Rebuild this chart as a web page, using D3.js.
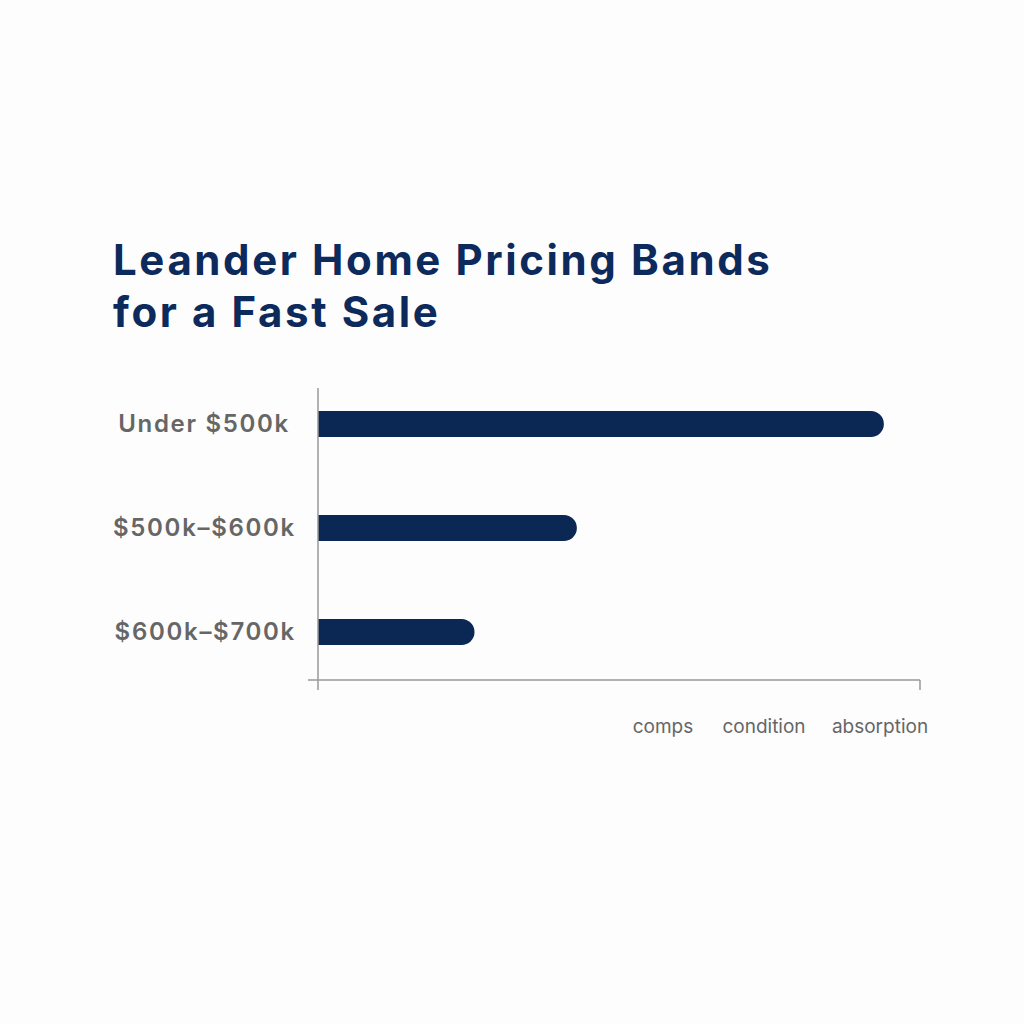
<!DOCTYPE html>
<html>
<head>
<meta charset="utf-8">
<script src="https://cdn.jsdelivr.net/npm/d3@7"></script>
<style>
  body { margin: 0; background: #fdfdfd; }
  svg { font-family: Inter, "Open Sans", sans-serif; }
</style>
</head>
<body>
<svg width="1024" height="1024"></svg>
<script>
const categories = ["Under $500k", "$500k–$600k", "$600k–$700k"];
const values = [94, 43, 26];
const factorLabels = ["comps", "condition", "absorption"];
const titleLines = ["Leander Home Pricing Bands", "for a Fast Sale"];

const svg = d3.select("svg");
const navy = "#0b2754";

svg.append("rect").attr("width", 1024).attr("height", 1024).attr("fill", "#fdfdfd");

// title
svg.selectAll("text.title")
  .data(titleLines)
  .enter()
  .append("text")
  .attr("class", "title")
  .attr("x", 113)
  .attr("y", (d, i) => 275 + i * 52)
  .attr("fill", "#0d2a5c")
  .attr("font-size", 42)
  .attr("font-weight", 700)
  .attr("letter-spacing", 2.6)
  .text(d => d);

const x = d3.scaleLinear().domain([0, 100]).range([318, 920]);
const y = d3.scalePoint().domain(categories).range([424, 632]);
const h = 26;

// bars: flat left, rounded right
svg.selectAll("path.bar")
  .data(categories)
  .enter()
  .append("path")
  .attr("class", "bar")
  .attr("fill", navy)
  .attr("d", (d, i) => {
    const x0 = x(0), x1 = x(values[i]), yc = y(d), r = h / 2;
    return `M${x0},${yc - r}H${x1 - r}A${r},${r} 0 0 1 ${x1 - r},${yc + r}H${x0}Z`;
  });

// category labels
svg.selectAll("text.cat")
  .data(categories)
  .enter()
  .append("text")
  .attr("class", "cat")
  .attr("x", (d, i) => i === 0 ? 290 : 296)
  .attr("y", d => y(d))
  .attr("dy", "0.35em")
  .attr("text-anchor", "end")
  .attr("fill", "#666")
  .attr("font-size", 24)
  .attr("font-weight", 600)
  .attr("letter-spacing", 1.7)
  .text(d => d);

// axes
const axisColor = "#999";
svg.append("line").attr("x1", 318).attr("x2", 318).attr("y1", 388).attr("y2", 690)
  .attr("stroke", axisColor).attr("stroke-width", 1.5);
svg.append("line").attr("x1", 308).attr("x2", 920).attr("y1", 680).attr("y2", 680)
  .attr("stroke", axisColor).attr("stroke-width", 1.5);
svg.append("line").attr("x1", 920).attr("x2", 920).attr("y1", 680).attr("y2", 690)
  .attr("stroke", axisColor).attr("stroke-width", 1.5);

// factor labels
const fx = [663, 764, 880];
svg.selectAll("text.factor")
  .data(factorLabels)
  .enter()
  .append("text")
  .attr("class", "factor")
  .attr("x", (d, i) => fx[i])
  .attr("y", 733)
  .attr("text-anchor", "middle")
  .attr("fill", "#666")
  .attr("font-size", 19)
  .text(d => d);
</script>
</body>
</html>
